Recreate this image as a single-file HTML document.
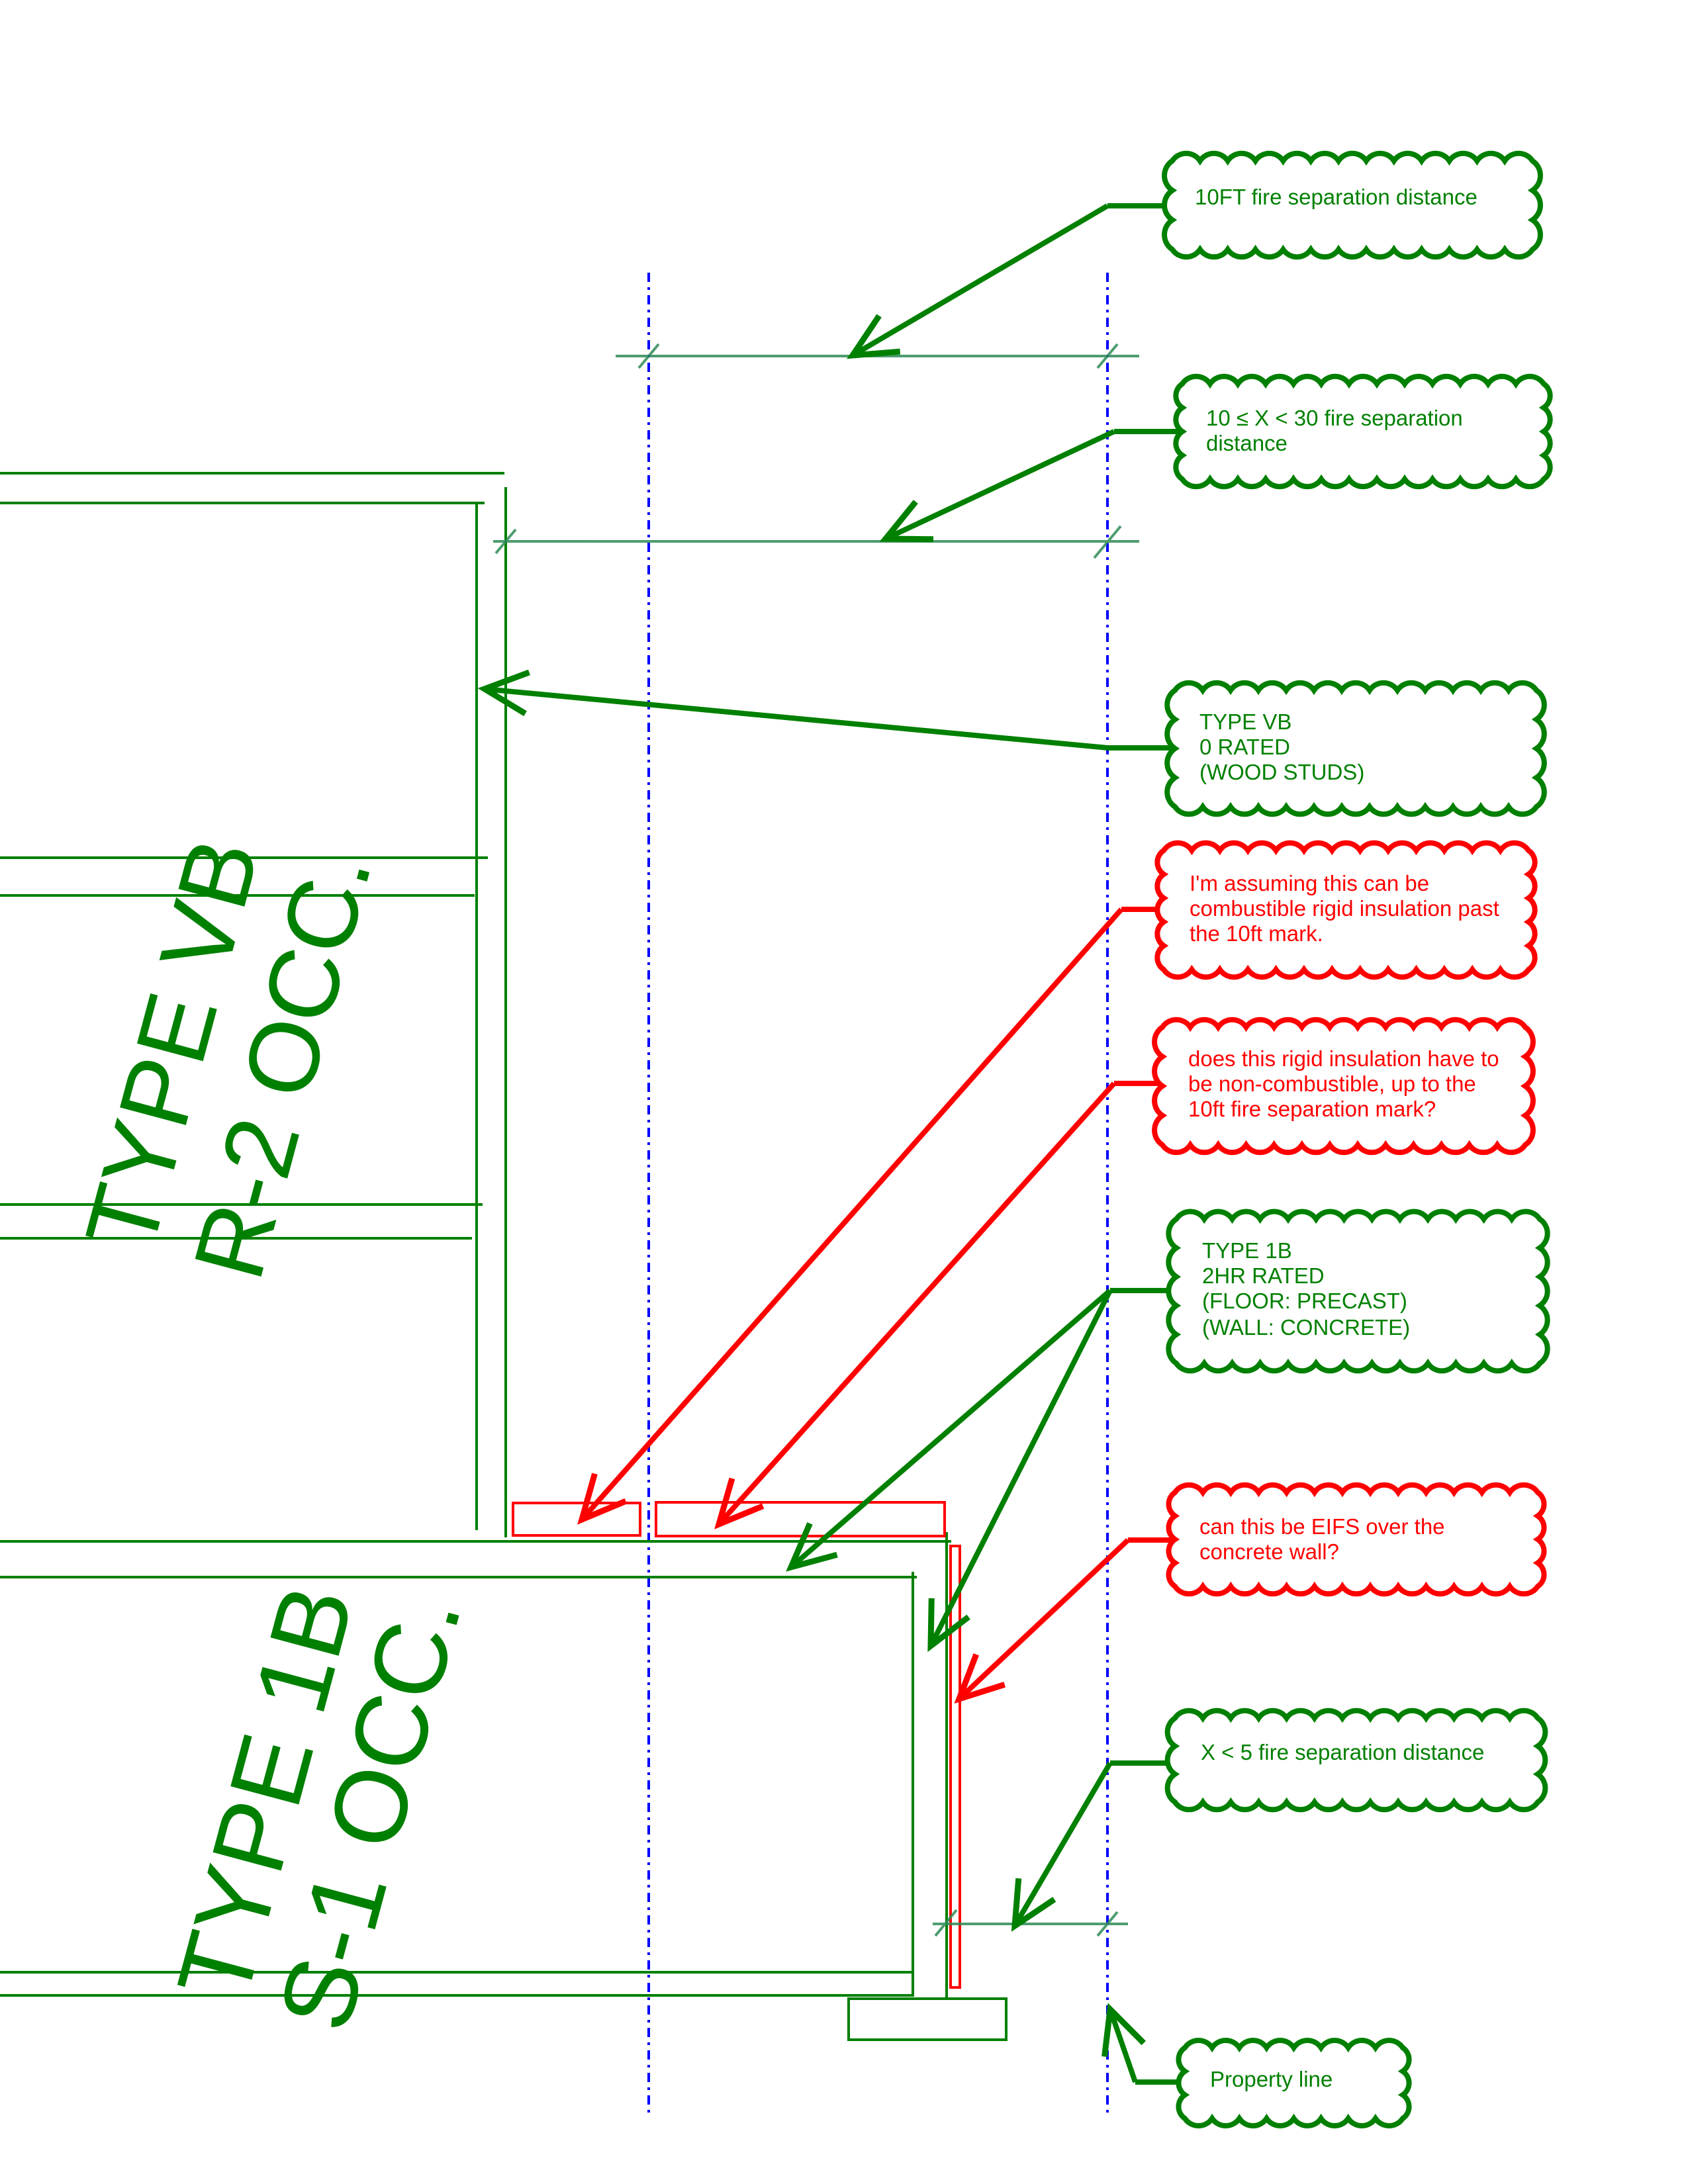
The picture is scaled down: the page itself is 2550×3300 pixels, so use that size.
<!DOCTYPE html>
<html><head><meta charset="utf-8"><style>
html,body{margin:0;padding:0;background:#fff}
svg{display:block}
text{font-family:"Liberation Sans",Arial,sans-serif}
</style></head><body>
<svg id="s" width="2550" height="3300" viewBox="0 0 2550 3300" xmlns="http://www.w3.org/2000/svg">
<rect width="2550" height="3300" fill="#fff"/>
<g stroke="#0000ff" stroke-width="4" stroke-dasharray="14 8 4 8" fill="none">
<line x1="980" y1="412" x2="980" y2="3192"/>
<line x1="1673" y1="412" x2="1673" y2="3192"/>
</g>
<g stroke="#008000" stroke-width="4" fill="none">
<line x1="0" y1="715" x2="762" y2="715"/>
<line x1="0" y1="760" x2="732" y2="760"/>
<line x1="720" y1="760" x2="720" y2="2312"/>
<line x1="764" y1="736" x2="764" y2="2323"/>
<line x1="0" y1="1296" x2="737" y2="1296"/>
<line x1="0" y1="1353" x2="717" y2="1353"/>
<line x1="0" y1="1820" x2="729" y2="1820"/>
<line x1="0" y1="1871" x2="713" y2="1871"/>
<line x1="0" y1="2329" x2="1437" y2="2329"/>
<line x1="0" y1="2383" x2="1385" y2="2383"/>
<line x1="1379" y1="2375" x2="1379" y2="3017"/>
<line x1="1430" y1="2315" x2="1430" y2="3020"/>
<line x1="0" y1="2980" x2="1379" y2="2980"/>
<line x1="0" y1="3015" x2="1379" y2="3015"/>
<rect x="1282" y="3020" width="238" height="62"/>
</g>
<g stroke="#ff0000" stroke-width="4" fill="none">
<rect x="775" y="2271" width="192" height="49"/>
<rect x="991" y="2270" width="436" height="51"/>
<rect x="1436" y="2336" width="14" height="667"/>
</g>
<g stroke="#2e8b57" stroke-width="4" opacity="0.85" fill="none">
<line x1="930" y1="538" x2="1721" y2="538"/>
<line x1="965" y1="556" x2="995" y2="520"/>
<line x1="1658" y1="556" x2="1688" y2="520"/>
<line x1="745" y1="818" x2="1721" y2="818"/>
<line x1="749" y1="836" x2="779" y2="800"/>
<line x1="1653" y1="843" x2="1693" y2="795"/>
<line x1="1409" y1="2907" x2="1704" y2="2907"/>
<line x1="1413" y1="2925" x2="1445" y2="2886"/>
<line x1="1658" y1="2925" x2="1688" y2="2889"/>
</g>
<g id="leaders" fill="none"></g>
<g id="clouds" fill="#fff" stroke-width="8"></g>
<g fill="#008000" font-size="150">
<g transform="translate(228,1897) rotate(-75)">
<text x="0" y="0">TYPE VB</text>
<text x="0" y="169">R-2 OCC.</text>
</g>
</g>
<g fill="#008000" font-size="155">
<g transform="translate(370,3030) rotate(-75)">
<text x="0" y="0">TYPE 1B</text>
<text x="-5" y="160">S-1 OCC.</text>
</g>
</g>
<g id="labels" font-size="33"></g>
</svg>
<script>
var NS="http://www.w3.org/2000/svg";
function el(p,t,a,txt){var e=document.createElementNS(NS,t);for(var k in a)e.setAttribute(k,a[k]);if(txt!==undefined)e.textContent=txt;p.appendChild(e);return e;}
var G="#008000",R="#ff0000";
function cloud(x1,y1,x2,y2,col){
  x1+=12;y1+=12;x2-=12;y2-=12;
  var w=x2-x1,h=y2-y1,nx=Math.max(2,Math.round(w/41)),ny=Math.max(2,Math.round(h/40));
  var dx=w/nx,dy=h/ny,d="M"+x1+","+y1;
  var rx=dx*0.6,ry=dy*0.6,i;
  for(i=1;i<=nx;i++)d+=" A"+rx+","+rx+" 0 0 1 "+(x1+dx*i)+","+y1;
  for(i=1;i<=ny;i++)d+=" A"+ry+","+ry+" 0 0 1 "+x2+","+(y1+dy*i);
  for(i=1;i<=nx;i++)d+=" A"+rx+","+rx+" 0 0 1 "+(x2-dx*i)+","+y2;
  for(i=1;i<=ny;i++)d+=" A"+ry+","+ry+" 0 0 1 "+x1+","+(y2-dy*i);
  el(document.getElementById("clouds"),"path",{d:d+"Z",stroke:col});
}
function arrowHead(g,fx,fy,tx,ty,col){
  var a=Math.atan2(fy-ty,fx-tx),L=72,s=0.45;
  var p1=[tx+L*Math.cos(a+s),ty+L*Math.sin(a+s)],p2=[tx+L*Math.cos(a-s),ty+L*Math.sin(a-s)];
  el(g,"path",{d:"M"+p1+" L"+tx+","+ty+" L"+p2,stroke:col,"stroke-width":9,fill:"none"});
}
function leader(cx,cy,kx,tips,col){
  var g=document.getElementById("leaders");
  el(g,"line",{x1:cx+12,y1:cy,x2:kx,y2:cy,stroke:col,"stroke-width":8});
  tips.forEach(function(t){
    el(g,"line",{x1:kx,y1:cy,x2:t[0],y2:t[1],stroke:col,"stroke-width":8});
    arrowHead(g,kx,cy,t[0],t[1],col);
  });
}
function label(x,ys,lines,col){
  var g=document.getElementById("labels");
  lines.forEach(function(t,i){el(g,"text",{x:x,y:ys[i]+12,fill:col},t);});
}
cloud(1759,231,2327,389,G);leader(1759,311,1673,[[1288,537]],G);
label(1805,[297],["10FT fire separation distance"],G);
cloud(1774,568,2344,736,G);leader(1774,652,1683,[[1338,814]],G);
label(1822,[631,669],["10 \u2264 X < 30 fire separation","distance"],G);
cloud(1763,1031,2333,1231,G);leader(1763,1130,1673,[[732,1041]],G);
label(1812,[1090,1128,1166],["TYPE VB","0 RATED","(WOOD STUDS)"],G);
cloud(1746,1273,2321,1477,R);leader(1746,1374,1694,[[879,2296]],R);
label(1797,[1334,1372,1410],["I'm assuming this can be","combustible rigid insulation past","the 10ft mark."],R);
cloud(1744,1540,2316,1742,R);leader(1744,1637,1683,[[1086,2303]],R);
label(1795,[1599,1637,1675],["does this rigid insulation have to","be non-combustible, up to the","10ft fire separation mark?"],R);
cloud(1765,1830,2338,2072,G);leader(1765,1950,1677,[[1195,2368],[1406,2487]],G);
label(1816,[1889,1927,1965,2005],["TYPE 1B","2HR RATED","(FLOOR: PRECAST)","(WALL: CONCRETE)"],G);
cloud(1763,2243,2335,2409,R);leader(1763,2327,1704,[[1449,2567]],R);
label(1812,[2306,2344],["can this be EIFS over the","concrete wall?"],R);
cloud(1763,2584,2335,2735,G);leader(1763,2664,1677,[[1533,2910]],G);
label(1814,[2647],["X < 5  fire separation distance"],G);
cloud(1778,3082,2131,3213,G);leader(1778,3146,1715,[[1677,3036]],G);
label(1828,[3141],["Property line"],G);
</script>
</body></html>
